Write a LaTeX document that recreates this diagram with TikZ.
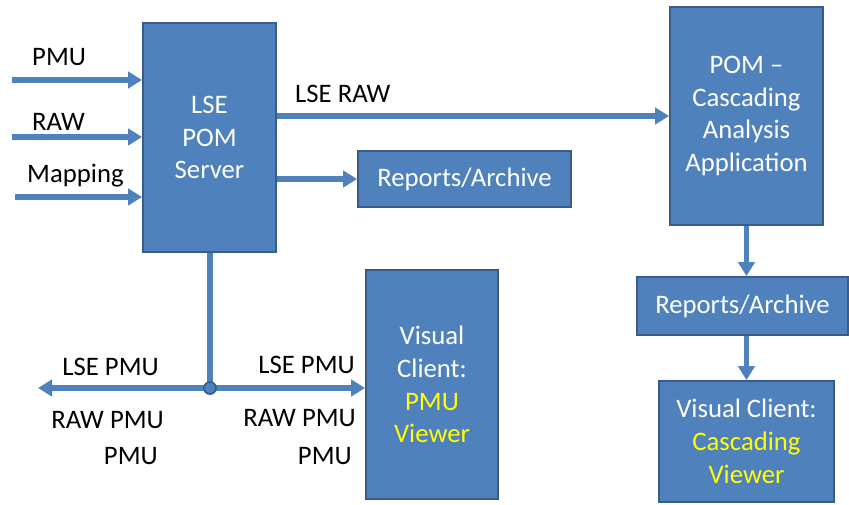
\documentclass[tikz,border=0pt]{standalone}
\usepackage{fontspec}
\setmainfont{Carlito}
\usetikzlibrary{positioning, arrows.meta, calc}
\usepackage{xcolor}

\definecolor{boxBlue}{HTML}{4F81BD}
\definecolor{edgeBlue}{HTML}{385D8A}
\definecolor{viewYellow}{HTML}{FFFF00}

\begin{document}
\begin{tikzpicture}[
    % box and text styles
    block/.style={rectangle, draw=edgeBlue, line width=1.6pt, fill=boxBlue, text=white, align=center, inner sep=0pt, font=\fontsize{22.8}{28}\selectfont},
    lbl/.style={inner sep=0pt, text=black, font=\fontsize{22.8}{28}\selectfont},
    % connector styles
    arr/.style={-{Triangle[length=12pt, width=14pt]}, line width=4.6pt, color=boxBlue},
    lnk/.style={line width=4.6pt, color=boxBlue},
]
\useasboundingbox (0,0) rectangle (25.47,-15.12);

% ===== server and its inputs =====
\node[block, minimum width=3.99cm, minimum height=6.87cm] (lse) at (6.285,-4.125) {LSE\\POM\\Server};

\coordinate (in_pmu) at (0.36,-2.40);
\coordinate (in_raw) at (0.36,-4.11);
\coordinate (in_map) at (0.45,-5.91);

\node[lbl, anchor=base west] (l_pmu) at (0.96,-1.95) {PMU};
\node[lbl, anchor=base west] (l_raw) at (0.96,-3.90) {RAW};
\node[lbl, anchor=base west] (l_map) at (0.81,-5.46) {Mapping};

\draw[arr] (in_pmu) -- (in_pmu -| lse.west);
\draw[arr] (in_raw) -- (in_raw -| lse.west);
\draw[arr] (in_map) -- (in_map -| lse.west);

% ===== reports and cascading analysis =====
\node[block, minimum width=6.39cm, minimum height=1.68cm] (rep1) at (13.935,-5.37) {Reports/Archive};
\node[block, minimum width=4.59cm, minimum height=6.54cm] (pom) at (22.395,-3.48) {POM --\\Cascading\\Analysis\\Application};
\node[block, minimum width=6.33cm, minimum height=1.74cm] (rep2) at (22.275,-9.18) {Reports/Archive};
\node[block, minimum width=5.25cm, minimum height=3.63cm] (vc2) at (22.395,-13.245) {Visual Client:\\\textcolor{viewYellow}{Cascading}\\\textcolor{viewYellow}{Viewer}};

\node[lbl, anchor=base west] (l_lseraw) at (8.85,-3.06) {LSE RAW};

\draw[arr] (lse.east |- pom.west) -- (pom.west);
\draw[arr] (lse.east |- rep1.west) -- (rep1.west);
\draw[arr] (pom.south) -- (pom.south |- rep2.north);
\draw[arr] (vc2.north |- rep2.south) -- (vc2.north);

% ===== PMU viewer branch =====
\node[block, minimum width=3.96cm, minimum height=6.87cm] (vc1) at (12.96,-11.535) {Visual\\Client:\\\textcolor{viewYellow}{PMU}\\\textcolor{viewYellow}{Viewer}};

\coordinate (jn) at (6.30,-11.64);
\coordinate (out_l) at (1.14,-11.64);

\draw[lnk] (jn |- lse.south) -- (jn);
\draw[arr] (jn) -- (out_l);
\draw[arr] (jn) -- (jn -| vc1.west);
\filldraw[fill=boxBlue, draw=edgeBlue, line width=1.5pt] (jn) circle (0.18);

\node[lbl, anchor=base east] (ll_lse) at (4.77,-11.25) {LSE PMU};
\node[lbl, anchor=base east] (ll_raw) at (4.92,-12.84) {RAW PMU};
\node[lbl, anchor=base east] (ll_pmu) at (4.74,-13.92) {PMU};

\node[lbl, anchor=base east] (lr_lse) at (10.65,-11.19) {LSE PMU};
\node[lbl, anchor=base east] (lr_raw) at (10.68,-12.78) {RAW PMU};
\node[lbl, anchor=base east] (lr_pmu) at (10.56,-13.92) {PMU};

\end{tikzpicture}
\end{document}
